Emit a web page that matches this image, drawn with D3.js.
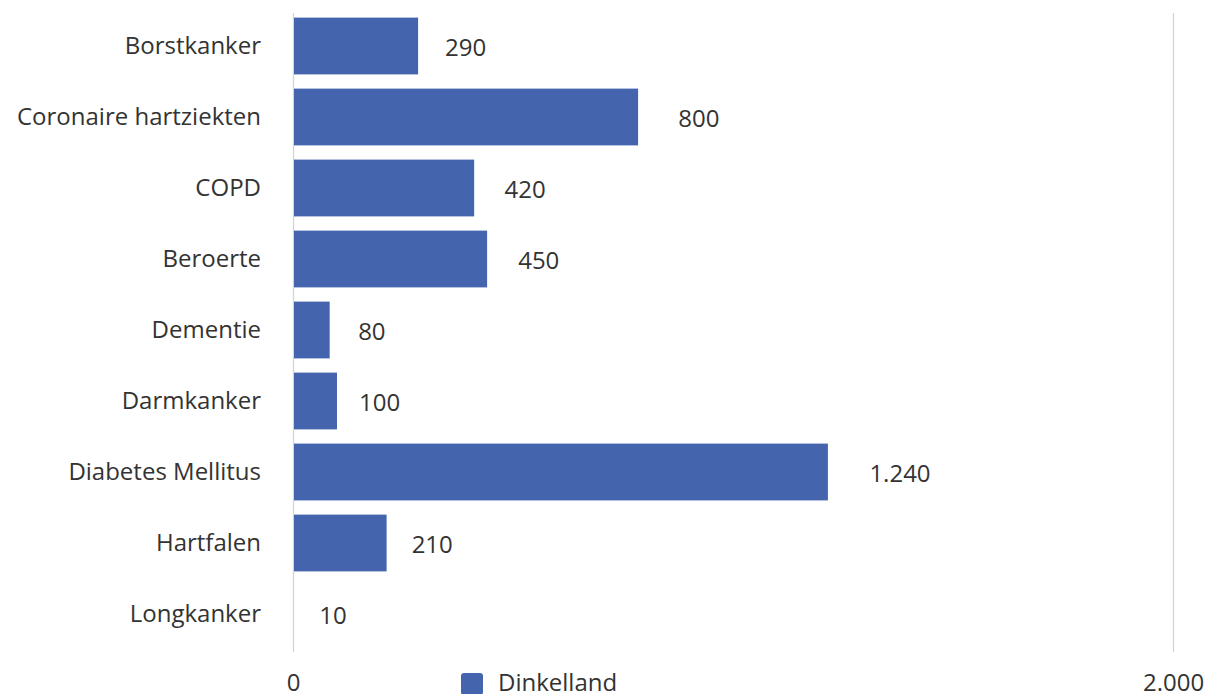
<!DOCTYPE html>
<html>
<head>
<meta charset="utf-8">
<script src="https://cdn.jsdelivr.net/npm/d3@7"></script>
<style>
  body { margin: 0; background: #fff; }
  svg { display: block; font-family: "Open Sans", sans-serif; }
</style>
</head>
<body>
<svg id="chart" width="1207" height="694"></svg>
<script>
// data
const categories = ['Borstkanker', 'Coronaire hartziekten', 'COPD', 'Beroerte', 'Dementie',
  'Darmkanker', 'Diabetes Mellitus', 'Hartfalen', 'Longkanker'];
// printed labels
const labelValues = [290, 800, 420, 450, 80, 100, 1240, 210, 10];
// bar lengths (Longkanker shows no visible bar)
const barValues = [290, 800, 420, 450, 85, 102, 1240, 217, 0];
const xTicks = ['0', '2.000'];
const xMax = 2040;
const seriesName = 'Dinkelland';

const svg = d3.select('#chart');
const margin = { top: 10.5, left: 293, right: 34, bottom: 44.5 };
const width = 1207 - margin.left - margin.right;
const height = 694 - margin.top - margin.bottom;

const x = d3.scaleLinear().domain([0, xMax]).range([margin.left, margin.left + width]);
const y = d3.scaleBand().domain(categories).range([margin.top, margin.top + height]).paddingInner(0.2).paddingOuter(0.1);
// the two labelled gridlines sit at the ends of the value axis
const xg = d3.scalePoint().domain(xTicks).range(x.range());

const fmt = d3.formatLocale({ decimal: ',', thousands: '.', grouping: [3], currency: ['€', ''] }).format(',');

// gridlines
svg.append('g')
  .selectAll('line')
  .data(xTicks)
  .join('line')
  .attr('x1', (d) => Math.round(xg(d)) + 0.5)
  .attr('x2', (d) => Math.round(xg(d)) + 0.5)
  .attr('y1', 13)
  .attr('y2', 652)
  .attr('stroke', '#d4d4d4')
  .attr('stroke-width', 1.3);

// x axis labels
svg.append('g')
  .attr('transform', 'translate(0,674)')
  .call(d3.axisBottom(xg).tickSize(0).tickPadding(0))
  .call((g) => g.select('.domain').remove())
  .selectAll('text')
  .attr('font-size', 24)
  .attr('font-family', '"Open Sans", sans-serif')
  .attr('fill', '#333');

// y axis labels
svg.append('g')
  .attr('transform', `translate(${margin.left},0)`)
  .call(d3.axisLeft(y).tickSize(0).tickPadding(32))
  .call((g) => g.select('.domain').remove())
  .selectAll('text')
  .attr('font-size', 24)
  .attr('font-family', '"Open Sans", sans-serif')
  .attr('fill', '#333');

// bars
svg.append('g')
  .selectAll('rect')
  .data(categories)
  .join('rect')
  .attr('x', x(0) + 1)
  .attr('y', (d) => y(d))
  .attr('width', (d, i) => Math.max(0, x(barValues[i]) - x(0) - 1))
  .attr('height', y.bandwidth())
  .attr('fill', '#4464ae');

// value labels
svg.append('g')
  .selectAll('text')
  .data(categories)
  .join('text')
  .attr('x', (d, i) => x(barValues[i] * 1.06) + 40)
  .attr('y', (d) => y(d) + y.bandwidth() / 2 + 2)
  .attr('dy', '0.35em')
  .attr('text-anchor', 'middle')
  .attr('font-size', 24)
  .attr('fill', '#333')
  .text((d, i) => fmt(labelValues[i]));

// legend
const legend = svg.append('g').attr('transform', 'translate(461,673)');
legend.append('rect')
  .attr('width', 22)
  .attr('height', 22)
  .attr('rx', 3)
  .attr('fill', '#4464ae');
legend.append('text')
  .attr('x', 37)
  .attr('y', 18)
  .attr('font-size', 24)
  .attr('fill', '#333')
  .text(seriesName);
</script>
</body>
</html>
